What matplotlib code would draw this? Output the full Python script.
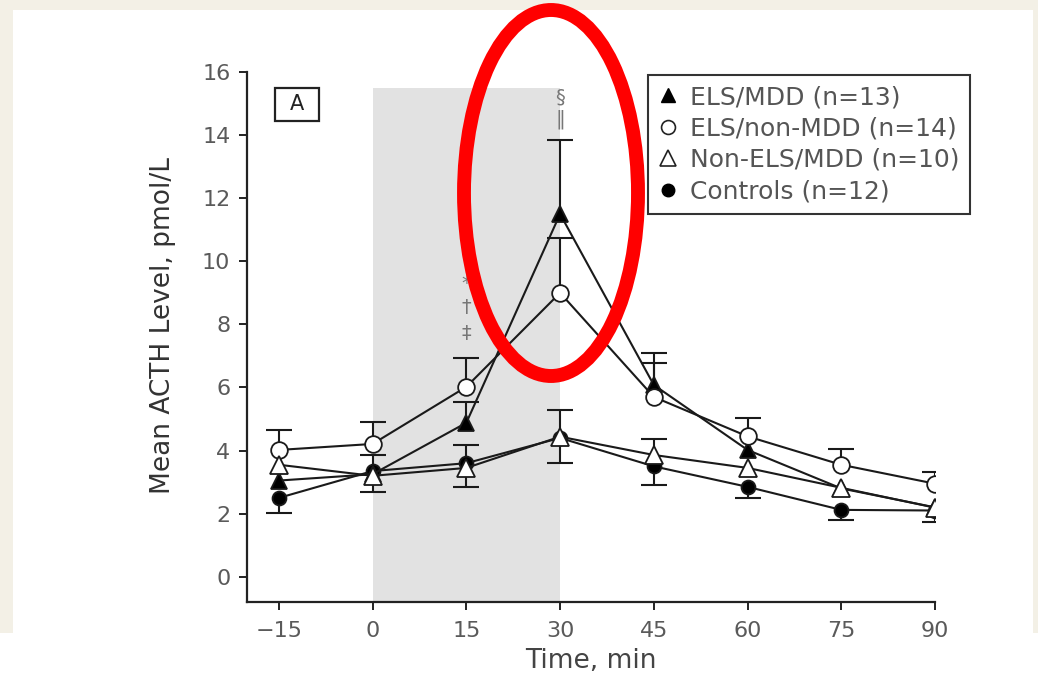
import numpy as np
import matplotlib
matplotlib.use("Agg")
import matplotlib.pyplot as plt
from matplotlib.lines import Line2D
from matplotlib.patches import Rectangle, Ellipse

# ---------------- data ----------------
time_min = [-15, 0, 15, 30, 45, 60, 75, 90]
x_ticks = [-15, 0, 15, 30, 45, 60, 75, 90]
y_ticks = [0, 2, 4, 6, 8, 10, 12, 14, 16]

els_mdd = [3.05, 3.25, 4.88, 11.5, 6.08, 4.02, 2.8, 2.2]
els_mdd_up = [0, 0.6, 0.67, 2.35, 1.02, 0, 0, 0]
els_mdd_dn = [0, 0, 0, 0, 0, 0, 0, 0]

els_nonmdd = [4.02, 4.21, 6.02, 9.0, 5.7, 4.45, 3.55, 2.95]
els_nonmdd_up = [0.64, 0.69, 0.92, 1.75, 1.08, 0.59, 0.51, 0.38]
els_nonmdd_dn = [0, 0, 0, 0, 0, 0, 0, 0]

nonels_mdd = [3.55, 3.2, 3.45, 4.44, 3.86, 3.45, 2.82, 2.19]
nonels_mdd_up = [0, 0, 0.73, 0.85, 0.5, 0, 0, 0]
nonels_mdd_dn = [0, 0.5, 0.6, 0.84, 0, 0, 0, 0.45]

controls = [2.5, 3.35, 3.6, 4.4, 3.5, 2.85, 2.12, 2.1]
controls_up = [0, 0, 0, 0, 0, 0, 0, 0]
controls_dn = [0.47, 0, 0, 0, 0.58, 0.35, 0.32, 0]

labels = ["ELS/MDD (n=13)", "ELS/non-MDD (n=14)", "Non-ELS/MDD (n=10)", "Controls (n=12)"]
stress_window = (0, 30)
shade_top = 15.5

sig_15 = ["*", "\u2020", "\u2021"]
sig_15_y = [9.3, 8.55, 7.7]
sig_30 = ["\u00a7", "\u2016"]
sig_30_y = [15.2, 14.5]

# ---------------- figure ----------------
W, H = 1038, 678
fig = plt.figure(figsize=(W / 100, H / 100), dpi=100)
fig.patch.set_facecolor("white")
beige = "#f3f0e6"
fig.patches.append(Rectangle((0, 1 - 10 / H), 1, 10 / H, transform=fig.transFigure,
                             facecolor=beige, edgecolor="none", zorder=-10))
fig.patches.append(Rectangle((0, 1 - 633 / H), 13 / W, 633 / H, transform=fig.transFigure,
                             facecolor=beige, edgecolor="none", zorder=-10))
fig.patches.append(Rectangle((1033 / W, 1 - 633 / H), 5 / W, 633 / H, transform=fig.transFigure,
                             facecolor=beige, edgecolor="none", zorder=-10))

ax = fig.add_axes([247 / W, 1 - 602 / H, (935 - 247) / W, (602 - 72) / H])
ax.set_facecolor("none")
ax.set_xlim(-20.1, 90)
ax.set_ylim(-0.8, 16)

font = "DejaVu Sans"
tick_col = "#5a5a5a"

ax.axvspan(stress_window[0], stress_window[1], ymin=0, ymax=(shade_top + 0.8) / 16.8,
           facecolor="#e2e2e2", edgecolor="none", zorder=0)

x = np.array(time_min, dtype=float)
cap_ms = 19


def draw_err(vals, up, dn):
    v = np.array(vals, dtype=float)
    u = np.array(up, dtype=float)
    d = np.array(dn, dtype=float)
    iu = u > 0
    idn = d > 0
    ax.vlines(x[iu], v[iu], v[iu] + u[iu], colors="#1a1a1a", lw=1.5, zorder=2)
    ax.plot(x[iu], v[iu] + u[iu], ls="none", marker="_", ms=cap_ms, mew=1.5, color="#1a1a1a", zorder=2)
    ax.vlines(x[idn], v[idn] - d[idn], v[idn], colors="#1a1a1a", lw=1.5, zorder=2)
    ax.plot(x[idn], v[idn] - d[idn], ls="none", marker="_", ms=cap_ms, mew=1.5, color="#1a1a1a", zorder=2)


series = [
    (controls, controls_up, controls_dn, dict(marker="o", mfc="black", ms=10), 3),
    (els_mdd, els_mdd_up, els_mdd_dn, dict(marker="^", mfc="black", ms=11), 4),
    (els_nonmdd, els_nonmdd_up, els_nonmdd_dn, dict(marker="o", mfc="white", ms=12), 5),
    (nonels_mdd, nonels_mdd_up, nonels_mdd_dn, dict(marker="^", mfc="white", ms=13), 6),
]
for vals, up, dn, style, z in series:
    draw_err(vals, up, dn)
    ax.plot(x, vals, color="#1a1a1a", lw=1.5, mec="#1a1a1a", mew=1.3, zorder=z, **style)

for s, yv in zip(sig_15, sig_15_y):
    ax.text(15, yv, s, ha="center", va="center", fontsize=14, color="#777777",
            family=["DejaVu Sans"])
for s, yv in zip(sig_30, sig_30_y):
    ax.text(30, yv, s, ha="center", va="center", fontsize=14, color="#777777",
            family=["DejaVu Sans"])

# panel label
ax.add_patch(Rectangle((-15.6, 14.45), 7.0, 1.05, facecolor="white", edgecolor="#222222",
                       lw=1.6, zorder=6))
ax.text(-12.1, 14.97, "A", ha="center", va="center", fontsize=15, color="#222222",
        family=font, zorder=7)

# axes styling
for side in ["top", "right"]:
    ax.spines[side].set_visible(False)
ax.spines["left"].set_bounds(-0.8, 16)
ax.spines["bottom"].set_bounds(-20.1, 90)
for side in ["left", "bottom"]:
    ax.spines[side].set_linewidth(1.6)
    ax.spines[side].set_color("#222222")
ax.set_xticks(x_ticks)
ax.set_xticklabels([("\u2212" + str(-t)) if t < 0 else str(t) for t in x_ticks])
ax.set_yticks(y_ticks)
ax.tick_params(axis="both", direction="out", length=6, width=1.4, color="#222222",
               labelcolor=tick_col, labelsize=16)
ax.tick_params(axis="x", pad=8)
ax.tick_params(axis="y", pad=6)
for lab in ax.get_xticklabels() + ax.get_yticklabels():
    lab.set_family(font)

fig.text(163 / W, 1 - 325 / H, "Mean ACTH Level, pmol/L", rotation=90, ha="center", va="center",
         fontsize=19, color="#333333", family=font)
fig.text(591 / W, 1 - 661 / H, "Time, min", ha="center", va="center", fontsize=19,
         color="#444444", family=font)

handles = [
    Line2D([], [], ls="none", marker="^", mfc="black", mec="black", ms=10),
    Line2D([], [], ls="none", marker="o", mfc="white", mec="#222222", mew=1.2, ms=10),
    Line2D([], [], ls="none", marker="^", mfc="white", mec="#222222", mew=1.2, ms=11),
    Line2D([], [], ls="none", marker="o", mfc="black", mec="black", ms=9),
]
leg = ax.legend(handles, labels, loc="upper left", bbox_to_anchor=(648 / W, 1 - 75 / H),
                bbox_transform=fig.transFigure, frameon=True, fancybox=False,
                edgecolor="#333333", framealpha=1, prop={"family": font, "size": 18},
                handlelength=0.8, handletextpad=0.5, labelspacing=0.3, borderpad=0.4,
                borderaxespad=0)
leg.get_frame().set_linewidth(1.5)
for t in leg.get_texts():
    t.set_color("#555555")

# red highlight ellipse
fig.patches.append(Ellipse((551 / W, 1 - 193 / H), 174 / W, 366 / H, transform=fig.transFigure,
                           fill=False, edgecolor="#ff0000", lw=10, zorder=20))

fig.savefig("out.png", dpi=100, facecolor=fig.get_facecolor())
